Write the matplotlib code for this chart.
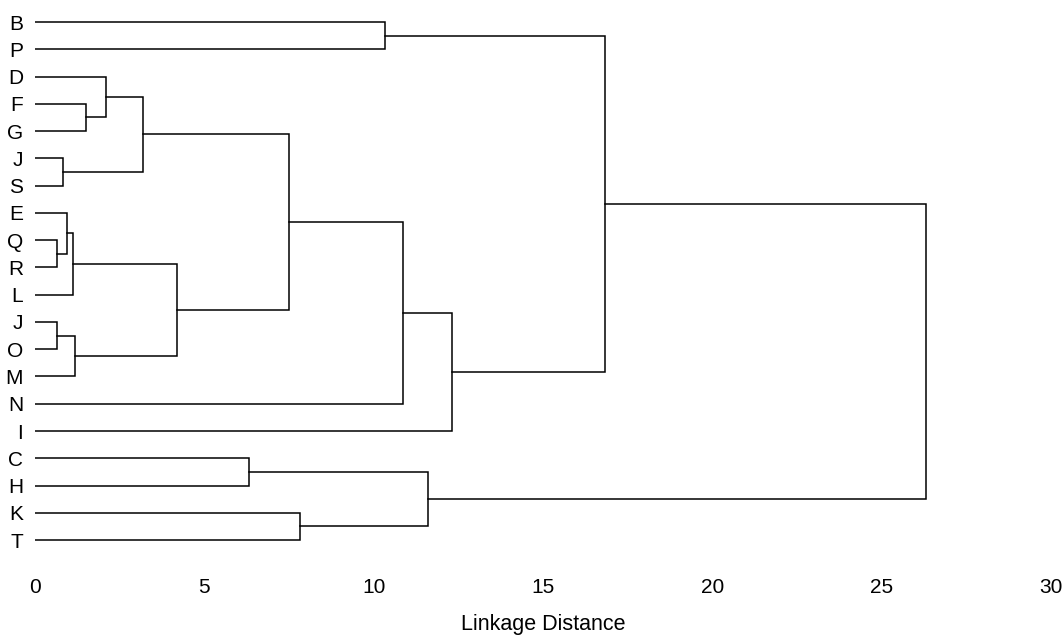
import matplotlib
matplotlib.use('Agg')
import matplotlib.pyplot as plt

plt.rcParams['font.family'] = ['Liberation Sans', 'DejaVu Sans']

# leaves, top to bottom
leaves = ['B', 'P', 'D', 'F', 'G', 'J', 'S', 'E', 'Q', 'R', 'L',
          'J', 'O', 'M', 'N', 'I', 'C', 'H', 'K', 'T']

# merges: (left cluster, right cluster, height); ids 0..19 are leaves,
# new clusters get ids 20, 21, ... in order
merges = [
    (3, 4, 1.51),     # 20 F,G
    (2, 20, 2.10),    # 21 D + FG
    (5, 6, 0.82),     # 22 J,S
    (21, 22, 3.18),   # 23
    (8, 9, 0.64),     # 24 Q,R
    (7, 24, 0.94),    # 25 E + QR
    (25, 10, 1.11),   # 26 + L
    (11, 12, 0.66),   # 27 J,O
    (27, 13, 1.17),   # 28 + M
    (26, 28, 4.18),   # 29
    (23, 29, 7.50),   # 30
    (30, 14, 10.87),  # 31 + N
    (31, 15, 12.31),  # 32 + I
    (0, 1, 10.33),    # 33 B,P
    (33, 32, 16.83),  # 34
    (16, 17, 6.32),   # 35 C,H
    (18, 19, 7.82),   # 36 K,T
    (35, 36, 11.60),  # 37
    (34, 37, 26.31),  # 38 root
]

fig = plt.figure(figsize=(10.63, 6.37), dpi=100)
ax = fig.add_axes([0.0329, 0.1209, 0.9558, 0.8791])

pos = {i: (0.0, float(i)) for i in range(len(leaves))}
for k, (a, b, h) in enumerate(merges):
    xa, ya = pos[a]
    xb, yb = pos[b]
    ax.plot([xa, h, h, xb], [ya, ya, yb, yb], color='black', lw=1.1,
            solid_joinstyle='miter')
    pos[len(leaves) + k] = (h, (ya + yb) / 2)

ax.set_xlim(0, 30)
ax.set_ylim(19.73, -0.807)
ax.set_xticks([0, 5, 10, 15, 20, 25, 30])
ax.set_yticks(range(len(leaves)))
ax.set_yticklabels(leaves)
ax.tick_params(length=0, labelsize=15)
ax.tick_params(axis='x', pad=13)
ax.tick_params(axis='y', pad=8.5)
ax.set_xlabel('Linkage Distance', fontsize=15.5, labelpad=12)
for s in ax.spines.values():
    s.set_visible(False)

fig.savefig('out.png', dpi=100)
